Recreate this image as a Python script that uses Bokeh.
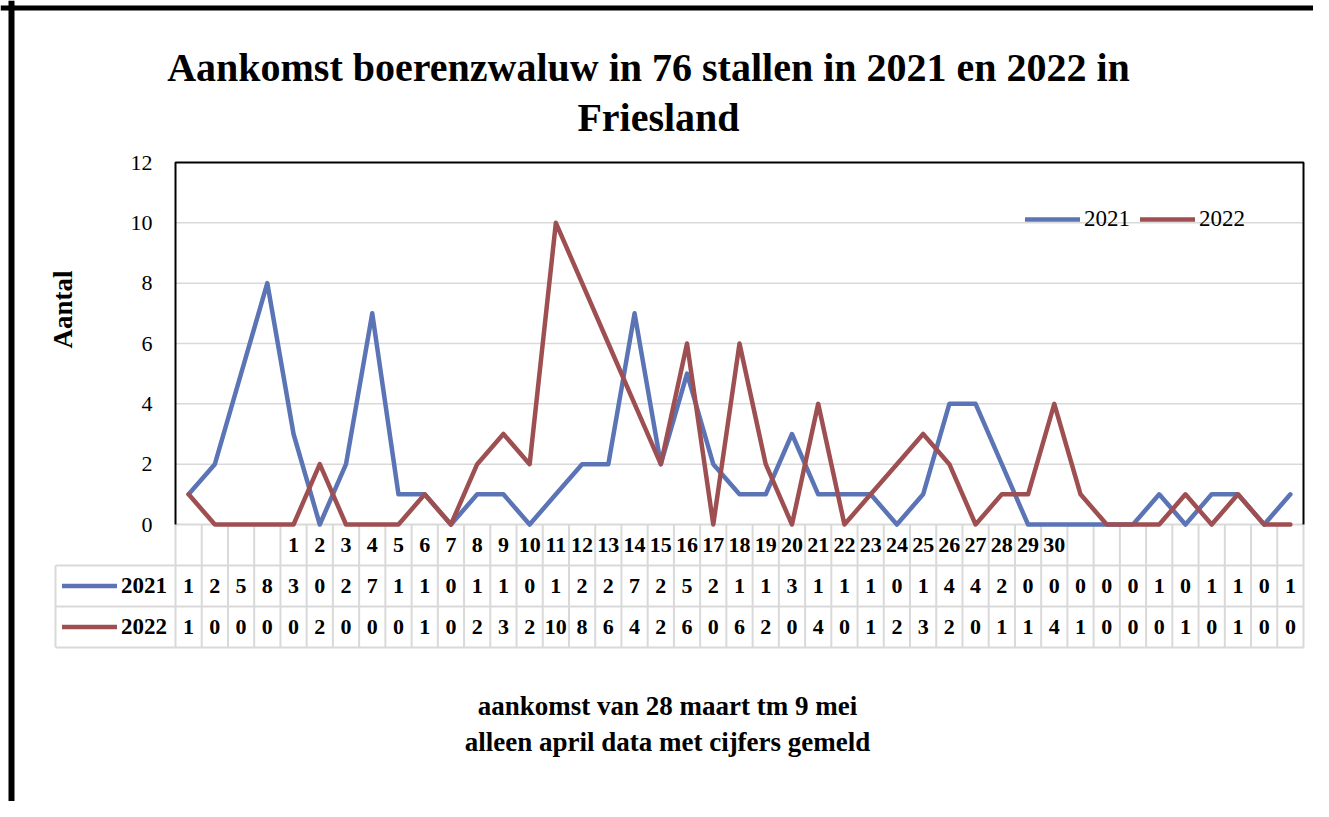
import math
from bokeh.plotting import figure
from bokeh.models import (ColumnDataSource, LinearAxis, FixedTicker, Legend, LegendItem,
                          Label, Span, Range1d)
from bokeh.core.properties import value
from bokeh.embed import file_html
from bokeh.resources import INLINE

# ---------------- data ----------------
days = [""] * 4 + [str(d) for d in range(1, 31)] + [""] * 9
y2021 = [1, 2, 5, 8, 3, 0, 2, 7, 1, 1, 0, 1, 1, 0, 1, 2, 2, 7, 2, 5, 2, 1, 1, 3, 1, 1, 1, 0, 1, 4,
         4, 2, 0, 0, 0, 0, 0, 1, 0, 1, 1, 0, 1]
y2022 = [1, 0, 0, 0, 0, 2, 0, 0, 0, 1, 0, 2, 3, 2, 10, 8, 6, 4, 2, 6, 0, 6, 2, 0, 4, 0, 1, 2, 3, 2,
         0, 1, 1, 4, 1, 0, 0, 0, 1, 0, 1, 0, 0]
series_names = ["2021", "2022"]
y_ticks = [0, 2, 4, 6, 8, 10, 12]
grid_vals = [2, 4, 6, 8, 10]
title_lines = ["Aankomst boerenzwaluw in  76 stallen  in 2021 en 2022 in", "Friesland"]
y_title = "Aantal"
footer_lines = ["aankomst van 28 maart tm 9 mei", "alleen april data met cijfers gemeld"]

# ---------------- styling / layout ----------------
BLUE = "#5b74b5"
RED = "#9e4f51"
GRID = "#d9d9d9"
FONT = "Liberation Serif"
W, H = 1313, 801
OX, OY = 0, 0                      # page offset of the canvas in the screenshot
PL, PR, PT, PB = 175, 1303, 162, 524   # plot area (page px)
n = len(days)
ymax = y_ticks[-1]
cw = (PR - PL) / n
ph = (PB - PT) / ymax
ROW_H = 41
HEAD_L = 55


def px2x(px):
    return (px - PL) / cw - 0.5


def py2y(py):
    return (PB - py) / ph


p = figure(width=W, height=H,
           x_range=Range1d(px2x(OX), px2x(OX + W)),
           y_range=Range1d(py2y(OY + H), py2y(OY)),
           output_backend="svg", toolbar_location=None, min_border=0,
           x_axis_location=None, y_axis_location=None, title=None,
           outline_line_color=None, background_fill_color="white",
           border_fill_color="white")
p.grid.visible = False

xs = list(range(n))
x_lo, x_hi = -0.5, n - 0.5

# gridlines
p.segment(x0=[x_lo] * len(grid_vals), x1=[x_hi] * len(grid_vals), y0=grid_vals, y1=grid_vals,
          line_color=GRID, line_width=1.5)

# table grid
r1y = py2y(PB + ROW_H)
r2y = py2y(PB + 2 * ROW_H)
r3y = py2y(PB + 3 * ROW_H)
hx = px2x(HEAD_L)
p.segment(x0=[x_lo, hx, hx, hx], x1=[x_hi] * 4, y0=[0, r1y, r2y, r3y], y1=[0, r1y, r2y, r3y],
          line_color=GRID, line_width=2)
vx = [x_lo + k for k in range(n + 1)]
p.segment(x0=vx, x1=vx, y0=[0] * len(vx), y1=[r3y] * len(vx), line_color=GRID, line_width=2)
p.segment(x0=[hx], x1=[hx], y0=[r1y], y1=[r3y], line_color=GRID, line_width=2)

# plot frame (black on left, top, right)
p.line(x=[x_lo, x_lo, x_hi, x_hi], y=[0, ymax, ymax, 0], line_color="black", line_width=2)

# series
src = ColumnDataSource(dict(x=xs, y2021=y2021, y2022=y2022, day=days,
                            t2021=[str(v) for v in y2021], t2022=[str(v) for v in y2022],
                            yc=[py2y(PB + ROW_H / 2)] * n,
                            ya=[py2y(PB + 1.5 * ROW_H)] * n,
                            yb=[py2y(PB + 2.5 * ROW_H)] * n))
ra = p.line("x", "y2021", source=src, line_color=BLUE, line_width=4.5,
            line_join="round", line_cap="round")
rb = p.line("x", "y2022", source=src, line_color=RED, line_width=4.5,
            line_join="round", line_cap="round")

# table texts
for col in ["day", "t2021", "t2022"]:
    ycol = {"day": "yc", "t2021": "ya", "t2022": "yb"}[col]
    p.text(x="x", y=ycol, text=col, source=src, text_align="center", text_baseline="middle",
           text_font=value(FONT), text_font_style="bold", text_font_size="22px", text_color="black")

# y axis
yaxis = LinearAxis(fixed_location=x_lo, ticker=FixedTicker(ticks=y_ticks),
                   axis_line_color=None, major_tick_line_color=None, minor_tick_line_color=None,
                   major_tick_out=0, major_tick_in=0, major_label_standoff=23,
                   major_label_text_font=FONT, major_label_text_font_size="22px",
                   major_label_text_color="black")
p.add_layout(yaxis, "left")

# chart legend
leg1 = Legend(items=[LegendItem(label=series_names[0], renderers=[ra]),
                     LegendItem(label=series_names[1], renderers=[rb])],
              orientation="horizontal", location=(1025 - OX, OY + H - 234),
              glyph_width=55, glyph_height=30, label_height=30, label_standoff=4, spacing=10,
              padding=0, margin=0, border_line_color=None, background_fill_alpha=0,
              label_text_font=FONT, label_text_font_size="23px", label_text_color="black")
p.add_layout(leg1)

# table row-header legend
leg2 = Legend(items=[LegendItem(label=series_names[0], renderers=[ra]),
                     LegendItem(label=series_names[1], renderers=[rb])],
              orientation="vertical", location=(62 - OX, OY + H - (PB + 3 * ROW_H)),
              glyph_width=55, glyph_height=ROW_H, label_height=ROW_H, label_standoff=4, spacing=0,
              padding=0, margin=0, border_line_color=None, background_fill_alpha=0,
              label_text_font=FONT, label_text_font_size="23px", label_text_font_style="bold",
              label_text_color="black")
p.add_layout(leg2)

# y title
p.add_layout(Label(x=62 - OX, y=OY + H - 309, x_units="screen", y_units="screen", text=y_title,
                   angle=math.pi / 2, text_align="center", text_baseline="middle",
                   text_font=FONT, text_font_size="27px", text_font_style="bold",
                   text_color="black"))

# title
for txt, mid in zip(title_lines, [67, 117]):
    p.add_layout(Label(x=658 - OX, y=OY + H - mid, x_units="screen", y_units="screen", text=txt,
                       text_align="center", text_baseline="middle",
                       text_font=FONT, text_font_size="40px", text_font_style="bold",
                       text_color="black"))

# footer
for txt, mid in zip(footer_lines, [705, 741]):
    p.add_layout(Label(x=667 - OX, y=OY + H - mid, x_units="screen", y_units="screen", text=txt,
                       text_align="center", text_baseline="middle",
                       text_font=FONT, text_font_size="27px", text_font_style="bold",
                       text_color="black"))

# outer border (left and top)
p.add_layout(Span(location=px2x(11), dimension="height", line_color="black", line_width=6))
p.add_layout(Span(location=py2y(7.5), dimension="width", line_color="black", line_width=5))

open("out.html", "w").write(file_html(p, INLINE))
